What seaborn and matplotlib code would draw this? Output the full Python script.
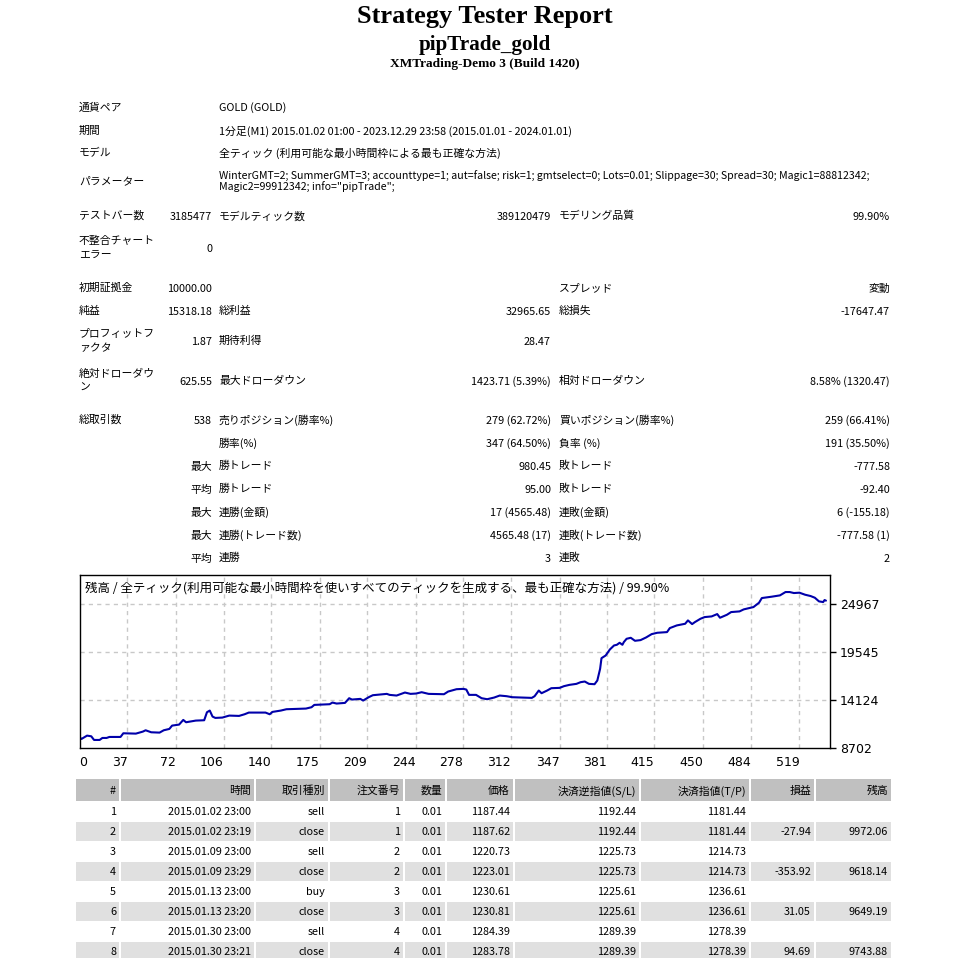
import numpy as np
import pandas as pd
import matplotlib
matplotlib.use("Agg")
import matplotlib.pyplot as plt
import seaborn as sns
from matplotlib.patches import Rectangle

# ---------------- data ----------------
title_main = "Strategy Tester Report"
title_ea = "pipTrade_gold"
title_server = "XMTrading-Demo 3 (Build 1420)"

info_labels = ["通貨ペア", "期間", "モデル", "パラメーター"]
info_values = [
    "GOLD (GOLD)",
    "1分足(M1) 2015.01.02 01:00 - 2023.12.29 23:58 (2015.01.01 - 2024.01.01)",
    "全ティック (利用可能な最小時間枠による最も正確な方法)",
    "WinterGMT=2; SummerGMT=3; accounttype=1; aut=false; risk=1; gmtselect=0; Lots=0.01; Slippage=30; Spread=30; Magic1=88812342;\nMagic2=99912342; info=\"pipTrade\";",
]

stat_label1 = ["テストバー数", "不整合チャート\nエラー", "初期証拠金", "純益", "プロフィットフ\nァクタ",
               "絶対ドローダウ\nン", "総取引数", "", "", "", "", "", ""]
stat_value1 = ["3185477", "0", "10000.00", "15318.18", "1.87", "625.55", "538", "",
               "最大", "平均", "最大", "最大", "平均"]
stat_label2 = ["モデルティック数", "", "", "総利益", "期待利得", "最大ドローダウン",
               "売りポジション(勝率%)", "勝率(%)", "勝トレード", "勝トレード", "連勝(金額)",
               "連勝(トレード数)", "連勝"]
stat_value2 = ["389120479", "", "", "32965.65", "28.47", "1423.71 (5.39%)", "279 (62.72%)",
               "347 (64.50%)", "980.45", "95.00", "17 (4565.48)", "4565.48 (17)", "3"]
stat_label3 = ["モデリング品質", "", "スプレッド", "総損失", "", "相対ドローダウン",
               "買いポジション(勝率%)", "負率 (%)", "敗トレード", "敗トレード", "連敗(金額)",
               "連敗(トレード数)", "連敗"]
stat_value3 = ["99.90%", "", "変動", "-17647.47", "", "8.58% (1320.47)", "259 (66.41%)",
               "191 (35.50%)", "-777.58", "-92.40", "6 (-155.18)", "-777.58 (1)", "2"]

chart_title = "残高 / 全ティック(利用可能な最小時間枠を使いすべてのティックを生成する、最も正確な方法) / 99.90%"
trade_idx = [0, 2, 4, 6, 8, 11, 13, 17, 19, 22, 24, 32, 34, 43, 48, 50, 54, 60, 63, 67, 69, 74,
             77, 79, 86, 92, 94, 96, 98, 100, 105, 110, 117, 121, 124, 136, 139, 141, 147, 151,
             165, 169, 171, 182, 184, 187, 193, 196, 198, 204, 206, 210, 213, 223, 225, 230,
             236, 240, 244, 248, 253, 264, 267, 273, 278, 280, 282, 287, 291, 295, 300, 304,
             309, 313, 321, 327, 329, 332, 334, 338, 341, 347, 350, 354, 359, 362, 365, 368,
             372, 374, 376, 377, 380, 383, 386, 388, 390, 392, 393, 395, 398, 401, 405, 409,
             413, 417, 424, 426, 431, 437, 439, 442, 444, 448, 451, 456, 460, 462, 467, 470,
             476, 479, 486, 490, 492, 499, 505, 509, 512, 515, 519, 523, 527, 530, 533, 536,
             537, 538]
balance = [10000, 10000, 9722, 9910, 10099, 10023, 9609, 9609, 9835, 9835, 9948, 9948, 10362,
           10324, 10550, 10701, 10475, 10437, 10701, 10851, 11228, 11341, 11868, 11605, 11793,
           11831, 12734, 12923, 12245, 12094, 12132, 12357, 12320, 12508, 12696, 12696, 12508,
           12772, 12923, 13073, 13148, 13299, 13562, 13638, 13826, 13713, 13788, 14316, 14165,
           14240, 14052, 14429, 14655, 14805, 14692, 14617, 14956, 14805, 14843, 14993, 14805,
           14767, 15068, 15331, 15369, 15294, 14692, 14692, 14316, 14203, 14391, 14617, 14542,
           14429, 14391, 14353, 14542, 15181, 14880, 15181, 15445, 15482, 15671, 15821, 15934,
           16123, 16198, 15934, 15896, 16311, 17629, 18833, 19134, 19812, 20264, 20340, 20565,
           20340, 20641, 21017, 21130, 20791, 20867, 21168, 21544, 21695, 21770, 22222, 22523,
           22711, 23088, 22674, 22899, 23276, 23464, 23539, 23803, 23389, 23728, 24029, 24104,
           24330, 24594, 25083, 25610, 25761, 25911, 26288, 26288, 26175, 26213, 25987, 25836,
           25648, 25234, 25159, 25385, 25318]
x_tick_labels = ["0", "37", "72", "106", "140", "175", "209", "244", "278", "312", "347", "381",
                 "415", "450", "484", "519"]
y_tick_values = [8702, 14124, 19545, 24967]

tbl_header = ["#", "時間", "取引種別", "注文番号", "数量", "価格", "決済逆指値(S/L)", "決済指値(T/P)",
              "損益", "残高"]
tbl_no = ["1", "2", "3", "4", "5", "6", "7", "8"]
tbl_time = ["2015.01.02 23:00", "2015.01.02 23:19", "2015.01.09 23:00", "2015.01.09 23:29",
            "2015.01.13 23:00", "2015.01.13 23:20", "2015.01.30 23:00", "2015.01.30 23:21"]
tbl_type = ["sell", "close", "sell", "close", "buy", "close", "sell", "close"]
tbl_order = ["1", "1", "2", "2", "3", "3", "4", "4"]
tbl_lots = ["0.01"] * 8
tbl_price = ["1187.44", "1187.62", "1220.73", "1223.01", "1230.61", "1230.81", "1284.39", "1283.78"]
tbl_sl = ["1192.44", "1192.44", "1225.73", "1225.73", "1225.61", "1225.61", "1289.39", "1289.39"]
tbl_tp = ["1181.44", "1181.44", "1214.73", "1214.73", "1236.61", "1236.61", "1278.39", "1278.39"]
tbl_profit = ["", "-27.94", "", "-353.92", "", "31.05", "", "94.69"]
tbl_balance = ["", "9972.06", "", "9618.14", "", "9649.19", "", "9743.88"]

# ---------------- style / layout ----------------
sns.set_style("white")
plt.rcParams["font.family"] = ["Noto Sans CJK JP", "DejaVu Sans"]
plt.rcParams["text.color"] = "black"
plt.rcParams["xtick.color"] = "black"
plt.rcParams["ytick.color"] = "black"

W, H = 972, 958
fig = plt.figure(figsize=(W / 100, H / 100), dpi=100)
page = fig.add_axes([0, 0, 1, 1])
page.set_xlim(0, W)
page.set_ylim(H, 0)
page.axis("off")

serif = ["Liberation Serif", "DejaVu Serif"]
page.text(485, 16.5, title_main, ha="center", va="center", fontsize=19, fontweight="bold",
          family=serif, color="black")
page.text(485, 44.5, title_ea, ha="center", va="center", fontsize=15.2, fontweight="bold",
          family=serif, color="black")
page.text(485, 63.5, title_server, ha="center", va="center", fontsize=9.6, fontweight="bold",
          family=serif, color="black")

FS = 7.8
COL_L1, COL_V1, COL_L2, COL_V2, COL_L3, COL_V3 = 79, 212, 219, 551, 559, 890

info_y = [108, 131, 153, 181]
for lab, val, y in zip(info_labels, info_values, info_y):
    page.text(COL_L1, y, lab, ha="left", va="center", fontsize=FS)
    page.text(COL_L2, y, val, ha="left", va="center", fontsize=FS if "\n" not in val else 7.6,
              linespacing=1.1)

stat_y = [216, 248, 288, 311, 341, 381, 420, 443, 466, 489, 512, 535, 558]
for i, y in enumerate(stat_y):
    page.text(COL_L1, y, stat_label1[i], ha="left", va="center", fontsize=FS, linespacing=1.45)
    page.text(COL_V1, y + 1, stat_value1[i], ha="right", va="center", fontsize=FS)
    page.text(COL_L2, y, stat_label2[i], ha="left", va="center", fontsize=FS)
    page.text(COL_V2, y + 1, stat_value2[i], ha="right", va="center", fontsize=FS)
    page.text(COL_L3, y, stat_label3[i], ha="left", va="center", fontsize=FS)
    page.text(COL_V3, y + 1, stat_value3[i], ha="right", va="center", fontsize=FS)

# ---------------- balance chart ----------------
CH_L, CH_R, CH_T, CH_B = 79.5, 830, 575, 748
ax = fig.add_axes([CH_L / W, 1 - CH_B / H, (CH_R - CH_L) / W, (CH_B - CH_T) / H])
df = pd.DataFrame({"trade": trade_idx, "balance": balance})
sns.lineplot(data=df, x="trade", y="balance", ax=ax, color="#0000AA", linewidth=1.5)
x_min, x_max = 2.57, 540.9
ax.set_xlim(x_min, x_max)
ax.set_ylim(8702, 28209)
xt = [x_min] + [float(v) for v in x_tick_labels[1:]]
ax.set_xticks(xt)
ax.set_xticklabels(x_tick_labels, fontsize=9, family=["DejaVu Sans"])
for i, lbl in enumerate(ax.get_xticklabels()):
    lbl.set_horizontalalignment("left" if i == 0 else "right")
ax.yaxis.tick_right()
ax.set_yticks(y_tick_values)
ax.set_yticklabels([str(v) for v in y_tick_values], fontsize=9, family=["DejaVu Sans"])
ax.tick_params(axis="x", direction="out", length=3, width=1, pad=2.5, colors="black")
ax.tick_params(axis="y", direction="out", length=4, width=1, pad=3, colors="black")
ax.set_xlabel("")
ax.set_ylabel("")
for v in xt[1:]:
    ax.axvline(v, color="#C8C8C8", linestyle=(0, (3, 3)), linewidth=1, zorder=0)
for v in y_tick_values[1:]:
    ax.axhline(v, color="#C8C8C8", linestyle=(0, (3, 3)), linewidth=1, zorder=0)
for s in ax.spines.values():
    s.set_color("black")
    s.set_linewidth(1)
    s.set_visible(True)
ax.text(0.0073, 0.925, chart_title, transform=ax.transAxes, ha="left", va="center", fontsize=9,
        color="black")

# ---------------- trade table ----------------
col_edges = [76, 121, 256, 330, 405, 447, 515, 641, 751, 816, 893]
HDR_T, HDR_B, ROW_H = 779, 801, 20
HDR_BG, ROW_BG = "#C0C0C0", "#E0E0E0"
for c in range(len(col_edges) - 1):
    x0, x1 = col_edges[c], col_edges[c + 1]
    page.add_patch(Rectangle((x0, HDR_T), x1 - x0 - 2, HDR_B - HDR_T, facecolor=HDR_BG, edgecolor="none"))
    page.text(x1 - 5, (HDR_T + HDR_B) / 2 + 1, tbl_header[c], ha="right", va="center", fontsize=FS)

columns = [tbl_no, tbl_time, tbl_type, tbl_order, tbl_lots, tbl_price, tbl_sl, tbl_tp,
           tbl_profit, tbl_balance]
for r in range(len(tbl_no)):
    y0 = HDR_B + r * ROW_H
    if r % 2 == 1:
        for c in range(len(col_edges) - 1):
            x0, x1 = col_edges[c], col_edges[c + 1]
            page.add_patch(Rectangle((x0, y0 + 1), x1 - x0 - 2, ROW_H - 1, facecolor=ROW_BG, edgecolor="none"))
    for c, col in enumerate(columns):
        page.text(col_edges[c + 1] - 5, y0 + ROW_H / 2 + 1, col[r], ha="right", va="center", fontsize=FS)

fig.savefig("out.png", dpi=100, facecolor="white")
